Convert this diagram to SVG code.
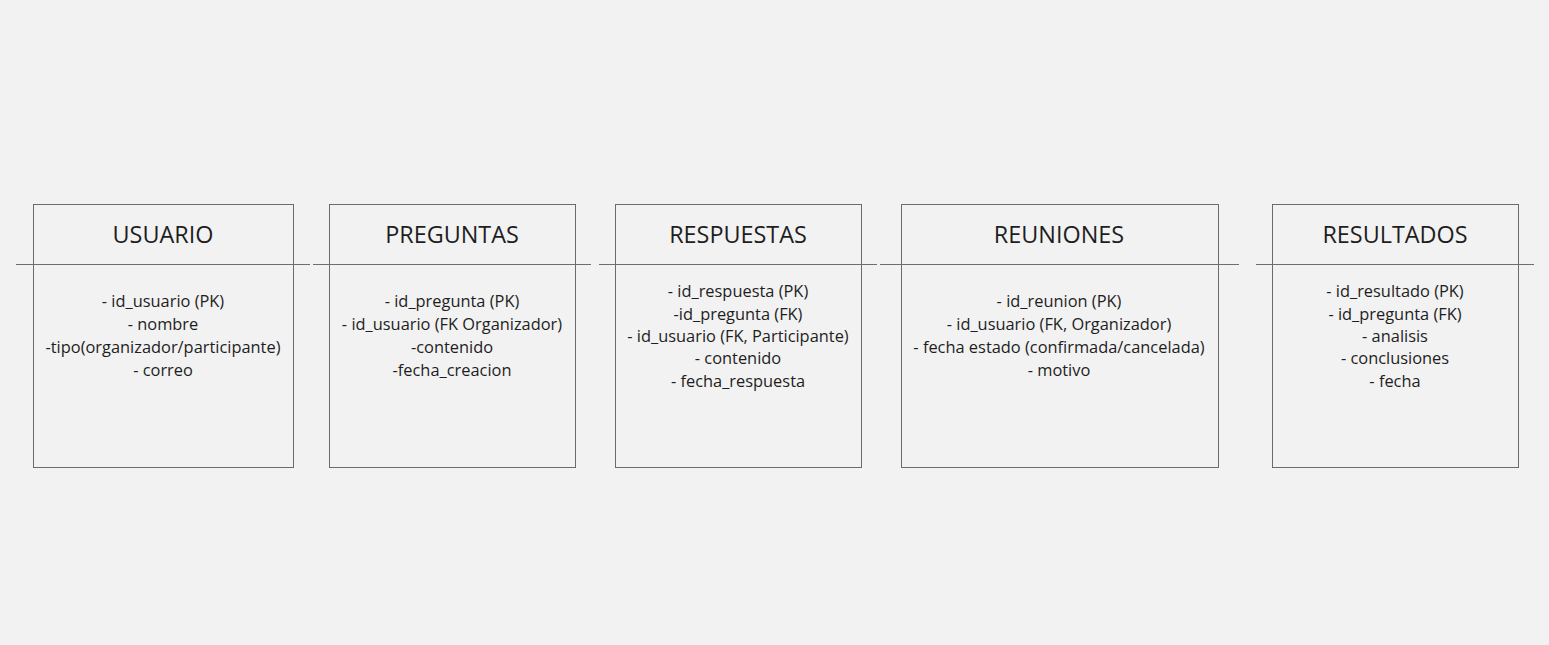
<svg xmlns="http://www.w3.org/2000/svg" width="1549" height="645" viewBox="0 0 1549 645">
<style>
.box{fill:#f2f2f2;stroke:#6b6b6b;stroke-width:1}
.div{stroke:#6e6e6e;stroke-width:1.2}
.t{font-family:"Open Sans","Noto Sans",sans-serif;font-size:23.4px;fill:#1e1e1e;text-anchor:middle}
.b{font-family:"Open Sans","Noto Sans",sans-serif;font-size:16.4px;fill:#1e1e1e;text-anchor:middle}
</style>
<rect width="1549" height="645" fill="#f2f2f2"/>
<g id="connectors"></g>
<g id="usuario">
<rect class="box" x="33.5" y="204.5" width="260" height="263"/>
<line class="div" x1="16" y1="264.5" x2="310" y2="264.5"/>
<text class="t" x="163" y="243">USUARIO</text>
<text class="b" x="163" y="307">- id_usuario (PK)</text>
<text class="b" x="163" y="330">- nombre</text>
<text class="b" x="163" y="353">-tipo(organizador/participante)</text>
<text class="b" x="163" y="376">- correo</text>
</g>
<g id="preguntas">
<rect class="box" x="329.5" y="204.5" width="246" height="263"/>
<line class="div" x1="313" y1="264.5" x2="591" y2="264.5"/>
<text class="t" x="452" y="243">PREGUNTAS</text>
<text class="b" x="452" y="307">- id_pregunta (PK)</text>
<text class="b" x="452" y="330">- id_usuario (FK Organizador)</text>
<text class="b" x="452" y="353">-contenido</text>
<text class="b" x="452" y="376">-fecha_creacion</text>
</g>
<g id="respuestas">
<rect class="box" x="615.5" y="204.5" width="246" height="263"/>
<line class="div" x1="599" y1="264.5" x2="877" y2="264.5"/>
<text class="t" x="738" y="243">RESPUESTAS</text>
<text class="b" x="738" y="297">- id_respuesta (PK)</text>
<text class="b" x="738" y="320">-id_pregunta (FK)</text>
<text class="b" x="738" y="342">- id_usuario (FK, Participante)</text>
<text class="b" x="738" y="364">- contenido</text>
<text class="b" x="738" y="387">- fecha_respuesta</text>
</g>
<g id="reuniones">
<rect class="box" x="901.5" y="204.5" width="317" height="263"/>
<line class="div" x1="880" y1="264.5" x2="1239" y2="264.5"/>
<text class="t" x="1059" y="243">REUNIONES</text>
<text class="b" x="1059" y="307">- id_reunion (PK)</text>
<text class="b" x="1059" y="330">- id_usuario (FK, Organizador)</text>
<text class="b" x="1059" y="353">- fecha estado (confirmada/cancelada)</text>
<text class="b" x="1059" y="376">- motivo</text>
</g>
<g id="resultados">
<rect class="box" x="1272.5" y="204.5" width="246" height="263"/>
<line class="div" x1="1256" y1="264.5" x2="1534" y2="264.5"/>
<text class="t" x="1395" y="243">RESULTADOS</text>
<text class="b" x="1395" y="297">- id_resultado (PK)</text>
<text class="b" x="1395" y="320">- id_pregunta (FK)</text>
<text class="b" x="1395" y="342">- analisis</text>
<text class="b" x="1395" y="364">- conclusiones</text>
<text class="b" x="1395" y="387">- fecha</text>
</g>
</svg>
